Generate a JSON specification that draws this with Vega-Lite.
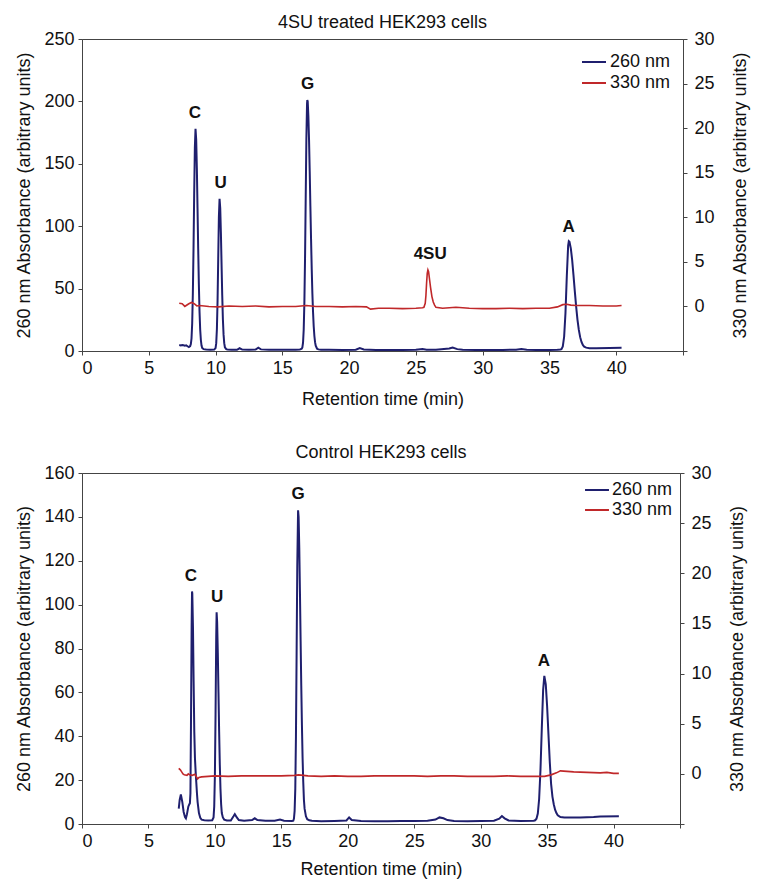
{
  "$schema": "https://vega.github.io/schema/vega-lite/v6.json",
  "padding": {"left": 15, "top": 13, "right": 5, "bottom": 5},
  "spacing": 34,
  "config": {
    "font": "Liberation Sans",
    "view": {"stroke": "#444", "strokeWidth": 1},
    "axis": {"grid": false, "domainColor": "#444", "tickColor": "#444", "labelFontSize": 18, "titleFontSize": 18, "titleFontWeight": "normal", "labelColor": "#111", "titleColor": "#111", "tickSize": 4, "labelPadding": 4, "titlePadding": 10},
    "title": {"fontSize": 18, "fontWeight": "normal", "color": "#111", "offset": 0},
    "legend": {"orient": "top-right", "offset": 12, "labelFontSize": 18, "labelColor": "#111", "symbolStrokeWidth": 2, "symbolSize": 400, "symbolType": "M-1.2,0H1.2", "rowPadding": 1, "labelOffset": 5, "padding": 0}
  },
  "datasets": {
    "top260": [
      {"t":7.28,"v":4.8},{"t":7.4,"v":4.5},{"t":7.5,"v":4.8},{"t":7.6,"v":4.6},{"t":7.7,"v":4.3},{"t":7.8,"v":4.5},{"t":7.9,"v":3.8},{"t":8.0,"v":3.2},{"t":8.1,"v":4.0},
      {"t":8.15,"v":5.5},{"t":8.2,"v":10},{"t":8.25,"v":22},{"t":8.3,"v":46},{"t":8.35,"v":82},{"t":8.4,"v":126},{"t":8.45,"v":163},{"t":8.5,"v":178},{"t":8.55,"v":169.5},{"t":8.6,"v":146.5},{"t":8.65,"v":114.5},{"t":8.7,"v":82},{"t":8.75,"v":53.4},{"t":8.8,"v":31.4},{"t":8.85,"v":17},{"t":8.9,"v":8.8},{"t":8.95,"v":4.4},{"t":9.0,"v":2.4},{"t":9.1,"v":1.5},{"t":9.3,"v":1.2},{"t":9.6,"v":1.0},{"t":9.9,"v":1.1},
      {"t":10.0,"v":2.3},{"t":10.05,"v":6.3},{"t":10.1,"v":17.4},{"t":10.15,"v":40.3},{"t":10.2,"v":74.4},{"t":10.25,"v":107.8},{"t":10.3,"v":122},{"t":10.35,"v":114.5},{"t":10.4,"v":94.8},{"t":10.45,"v":69.2},{"t":10.5,"v":44.6},{"t":10.55,"v":25.2},{"t":10.6,"v":13.1},{"t":10.65,"v":6.3},{"t":10.7,"v":3},{"t":10.8,"v":1.5},{"t":10.9,"v":1.1},
      {"t":11.2,"v":1.0},{"t":11.6,"v":1.0},{"t":11.8,"v":2.2},{"t":12.0,"v":1.1},{"t":12.5,"v":1.0},{"t":13.0,"v":1.2},{"t":13.2,"v":2.6},{"t":13.4,"v":1.3},{"t":14,"v":1.0},{"t":15,"v":1.0},{"t":16.0,"v":1.0},{"t":16.3,"v":1.1},
      {"t":16.45,"v":1.8},{"t":16.5,"v":2.8},{"t":16.55,"v":6.6},{"t":16.6,"v":17},{"t":16.65,"v":38.4},{"t":16.7,"v":74.2},{"t":16.75,"v":122.4},{"t":16.8,"v":170},{"t":16.85,"v":198},{"t":16.87,"v":201},{"t":16.9,"v":200},{"t":16.95,"v":188},{"t":17.0,"v":169},{"t":17.05,"v":144},{"t":17.1,"v":116},{"t":17.15,"v":90},{"t":17.2,"v":66},{"t":17.25,"v":46},{"t":17.3,"v":31},{"t":17.35,"v":19.6},{"t":17.4,"v":12},{"t":17.45,"v":7.1},{"t":17.5,"v":4.3},{"t":17.6,"v":1.8},{"t":17.7,"v":1.3},{"t":17.9,"v":1.0},
      {"t":18.5,"v":1.0},{"t":19.5,"v":0.9},{"t":20.5,"v":1.0},{"t":20.8,"v":2.4},{"t":21.1,"v":1.2},{"t":22,"v":0.9},{"t":23,"v":0.9},{"t":24,"v":0.9},{"t":25,"v":1.0},{"t":25.5,"v":1.6},{"t":25.8,"v":1.0},{"t":26.5,"v":1.0},{"t":27.5,"v":2.0},{"t":27.75,"v":2.8},{"t":28.1,"v":1.5},{"t":28.5,"v":1.0},{"t":29.5,"v":0.9},{"t":30.5,"v":0.9},{"t":31.5,"v":0.9},{"t":32.5,"v":1.0},{"t":32.9,"v":1.6},{"t":33.3,"v":1.0},{"t":34,"v":0.9},{"t":35,"v":0.9},{"t":35.6,"v":1.0},{"t":35.8,"v":1.2},
      {"t":35.9,"v":1.5},{"t":36.0,"v":3.6},{"t":36.1,"v":11.4},{"t":36.2,"v":30.5},{"t":36.3,"v":60},{"t":36.4,"v":84.4},{"t":36.45,"v":88},{"t":36.5,"v":87.5},{"t":36.6,"v":82.3},{"t":36.7,"v":73},{"t":36.8,"v":60.8},{"t":36.9,"v":47.8},{"t":37.0,"v":35.5},{"t":37.1,"v":25},{"t":37.2,"v":16.9},{"t":37.3,"v":11.1},{"t":37.4,"v":7.2},{"t":37.5,"v":4.8},{"t":37.6,"v":3.5},{"t":37.75,"v":2.7},{"t":38.0,"v":2.3},{"t":38.5,"v":2.3},{"t":39.5,"v":2.5},{"t":40.4,"v":2.6}
    ],
    "top330": [
      {"t":7.28,"v":0.35},{"t":7.5,"v":0.3},{"t":7.7,"v":0.0},{"t":7.8,"v":0.1},{"t":8.0,"v":0.3},{"t":8.2,"v":0.45},{"t":8.4,"v":0.3},{"t":8.6,"v":0.05},{"t":8.8,"v":0.1},{"t":9.5,"v":0.0},{"t":10.2,"v":-0.05},{"t":11,"v":0.05},{"t":12,"v":0.0},{"t":13,"v":0.05},{"t":14,"v":-0.05},{"t":15,"v":0.0},{"t":16,"v":0.0},{"t":16.8,"v":0.1},{"t":17.5,"v":0.0},{"t":18.5,"v":0.0},{"t":19.5,"v":-0.05},{"t":20.5,"v":0.0},{"t":21.3,"v":-0.05},{"t":21.6,"v":-0.3},{"t":22.2,"v":-0.2},{"t":23,"v":-0.2},{"t":24,"v":-0.25},{"t":25,"v":-0.2},{"t":25.5,"v":-0.15},{"t":25.6,"v":-0.1},{"t":25.7,"v":0.35},{"t":25.75,"v":1.2},{"t":25.8,"v":2.6},{"t":25.85,"v":3.7},{"t":25.9,"v":4.1},{"t":25.95,"v":3.9},{"t":26.0,"v":3.3},{"t":26.1,"v":2.1},{"t":26.2,"v":1.1},{"t":26.3,"v":0.5},{"t":26.4,"v":0.15},{"t":26.5,"v":-0.1},{"t":27,"v":-0.2},{"t":28,"v":-0.1},{"t":28.5,"v":-0.15},{"t":29,"v":-0.2},{"t":30,"v":-0.25},{"t":31,"v":-0.25},{"t":32,"v":-0.2},{"t":33,"v":-0.25},{"t":34,"v":-0.2},{"t":35,"v":-0.2},{"t":35.6,"v":-0.05},{"t":36.0,"v":0.2},{"t":36.3,"v":0.25},{"t":36.6,"v":0.15},{"t":37,"v":0.1},{"t":38,"v":0.1},{"t":39,"v":0.05},{"t":40,"v":0.05},{"t":40.4,"v":0.1}
    ],
    "topLabels": [
      {"t":8.46,"v":190.7,"label":"C"},{"t":10.38,"v":135,"label":"U"},{"t":16.9,"v":214,"label":"G"},{"t":26.07,"v":77.5,"label":"4SU"},{"t":36.43,"v":99.6,"label":"A"}
    ],
    "bot260": [
      {"t":7.28,"v":7},{"t":7.35,"v":11},{"t":7.44,"v":13.5},{"t":7.55,"v":10},{"t":7.65,"v":5.5},{"t":7.75,"v":3.2},{"t":7.82,"v":2.6},{"t":7.9,"v":4.5},{"t":8.0,"v":7.9},{"t":8.07,"v":8.9},{"t":8.12,"v":9.5},{"t":8.16,"v":14},{"t":8.2,"v":45},{"t":8.25,"v":90},{"t":8.28,"v":106},{"t":8.3,"v":105},{"t":8.35,"v":90},{"t":8.4,"v":65},{"t":8.45,"v":42},{"t":8.5,"v":30},{"t":8.55,"v":24},{"t":8.6,"v":19},{"t":8.65,"v":14},{"t":8.7,"v":10},{"t":8.8,"v":5},{"t":8.9,"v":2.8},{"t":9.0,"v":2.0},{"t":9.2,"v":1.7},{"t":9.5,"v":1.6},{"t":9.8,"v":1.7},
      {"t":9.9,"v":3},{"t":9.95,"v":8},{"t":10.0,"v":22},{"t":10.05,"v":50},{"t":10.1,"v":85},{"t":10.13,"v":96.5},{"t":10.17,"v":92},{"t":10.22,"v":78},{"t":10.27,"v":60},{"t":10.32,"v":42},{"t":10.37,"v":27},{"t":10.42,"v":16},{"t":10.47,"v":9},{"t":10.52,"v":5},{"t":10.6,"v":3},{"t":10.7,"v":2},{"t":10.9,"v":1.6},
      {"t":11.2,"v":1.6},{"t":11.4,"v":3.5},{"t":11.5,"v":4.5},{"t":11.65,"v":3.0},{"t":11.8,"v":1.8},{"t":12.2,"v":1.5},{"t":12.8,"v":1.8},{"t":13.0,"v":2.6},{"t":13.2,"v":1.8},{"t":13.8,"v":1.5},{"t":14.5,"v":1.5},{"t":14.9,"v":2.0},{"t":15.2,"v":1.5},{"t":15.8,"v":1.4},
      {"t":15.9,"v":1.5},{"t":15.95,"v":2.5},{"t":16.0,"v":6},{"t":16.05,"v":16},{"t":16.1,"v":40},{"t":16.15,"v":78},{"t":16.2,"v":118},{"t":16.26,"v":143},{"t":16.3,"v":140},{"t":16.35,"v":126},{"t":16.4,"v":106},{"t":16.45,"v":84},{"t":16.5,"v":63},{"t":16.55,"v":45},{"t":16.6,"v":30},{"t":16.65,"v":19},{"t":16.7,"v":11},{"t":16.75,"v":7},{"t":16.85,"v":3.5},{"t":16.95,"v":2.2},{"t":17.1,"v":1.7},{"t":17.3,"v":1.5},
      {"t":18,"v":1.3},{"t":19,"v":1.4},{"t":19.9,"v":1.6},{"t":20.1,"v":3.0},{"t":20.3,"v":1.8},{"t":21,"v":1.4},{"t":22,"v":1.3},{"t":23,"v":1.3},{"t":24,"v":1.4},{"t":25,"v":1.4},{"t":26,"v":1.5},{"t":26.6,"v":2.0},{"t":26.9,"v":3.0},{"t":27.2,"v":2.6},{"t":27.5,"v":1.8},{"t":28,"v":1.4},{"t":29,"v":1.3},{"t":30,"v":1.4},{"t":31,"v":1.5},{"t":31.4,"v":2.4},{"t":31.6,"v":3.6},{"t":31.8,"v":2.6},{"t":32.1,"v":1.6},{"t":33,"v":1.4},{"t":34,"v":1.5},
      {"t":34.1,"v":1.7},{"t":34.2,"v":2.4},{"t":34.3,"v":4.8},{"t":34.4,"v":11.4},{"t":34.5,"v":24.6},{"t":34.6,"v":43.5},{"t":34.7,"v":61},{"t":34.79,"v":67.5},{"t":34.9,"v":63.6},{"t":35.0,"v":53.7},{"t":35.1,"v":41},{"t":35.2,"v":28.4},{"t":35.3,"v":18.3},{"t":35.4,"v":12.5},{"t":35.5,"v":9},{"t":35.6,"v":6.5},{"t":35.7,"v":5},{"t":35.8,"v":4},{"t":36.0,"v":3.2},{"t":36.3,"v":3.0},{"t":36.8,"v":3.0},{"t":37.5,"v":3.0},{"t":38.5,"v":3.2},{"t":39,"v":3.4},{"t":40.4,"v":3.5}
    ],
    "bot330": [
      {"t":7.28,"v":0.55},{"t":7.4,"v":0.4},{"t":7.5,"v":0.2},{"t":7.6,"v":0.0},{"t":7.7,"v":-0.1},{"t":7.9,"v":-0.15},{"t":8.0,"v":0.0},{"t":8.1,"v":-0.1},{"t":8.3,"v":-0.15},{"t":8.5,"v":-0.05},{"t":8.7,"v":-0.5},{"t":8.8,"v":-0.35},{"t":9.0,"v":-0.3},{"t":9.5,"v":-0.25},{"t":10,"v":-0.2},{"t":11,"v":-0.25},{"t":12,"v":-0.2},{"t":13,"v":-0.2},{"t":14,"v":-0.2},{"t":15,"v":-0.2},{"t":16,"v":-0.15},{"t":16.3,"v":-0.1},{"t":17,"v":-0.2},{"t":18,"v":-0.25},{"t":19,"v":-0.2},{"t":20,"v":-0.25},{"t":21,"v":-0.25},{"t":22,"v":-0.2},{"t":23,"v":-0.2},{"t":24,"v":-0.2},{"t":25,"v":-0.2},{"t":26,"v":-0.25},{"t":27,"v":-0.2},{"t":28,"v":-0.2},{"t":29,"v":-0.25},{"t":30,"v":-0.25},{"t":31,"v":-0.25},{"t":32,"v":-0.2},{"t":33,"v":-0.25},{"t":34,"v":-0.25},{"t":34.8,"v":-0.25},{"t":35.3,"v":-0.1},{"t":35.7,"v":0.1},{"t":36.0,"v":0.3},{"t":36.5,"v":0.25},{"t":37,"v":0.2},{"t":38,"v":0.15},{"t":39,"v":0.1},{"t":39.5,"v":0.15},{"t":40,"v":0.05},{"t":40.4,"v":0.05}
    ],
    "botLabels": [
      {"t":8.2,"v":113.2,"label":"C"},{"t":10.17,"v":103.6,"label":"U"},{"t":16.26,"v":150.3,"label":"G"},{"t":34.76,"v":74.4,"label":"A"}
    ]
  },
  "resolve": {"scale": {"color": "independent"}},
  "vconcat": [
    {
      "title": {"text": "4SU treated HEK293 cells", "offset": -2},
      "width": 601,
      "height": 312,
      "resolve": {"scale": {"y": "independent"}},
      "layer": [
        {
          "data": {"name": "top260"},
          "mark": {"type": "line", "strokeWidth": 2},
          "encoding": {
            "x": {"field": "t", "type": "quantitative", "scale": {"domain": [0, 45], "nice": false}, "axis": {"title": "Retention time (min)", "titlePadding": 13, "values": [0, 5, 10, 15, 20, 25, 30, 35, 40, 45], "labelExpr": "datum.value > 40 ? '' : datum.label"}},
            "y": {"field": "v", "type": "quantitative", "scale": {"domain": [0, 250], "nice": false}, "axis": {"orient": "left", "title": "260 nm Absorbance (arbitrary units)", "values": [0, 50, 100, 150, 200, 250]}},
            "color": {"datum": "260 nm", "scale": {"domain": ["260 nm", "330 nm"], "range": ["#1f1f6e", "#c0282a"]}, "legend": {"title": null}}
          }
        },
        {
          "data": {"name": "top330"},
          "mark": {"type": "line", "strokeWidth": 1.6},
          "encoding": {
            "x": {"field": "t", "type": "quantitative"},
            "y": {"field": "v", "type": "quantitative", "scale": {"domain": [-5, 30], "nice": false}, "axis": {"orient": "right", "title": "330 nm Absorbance (arbitrary units)", "titleAngle": 270, "titleBaseline": "top", "titlePadding": 17, "labelPadding": 7, "values": [-5, 0, 5, 10, 15, 20, 25, 30], "labelExpr": "datum.value < 0 ? '' : datum.label"}},
            "color": {"datum": "330 nm", "legend": {"title": null}}
          }
        },
        {
          "data": {"name": "topLabels"},
          "mark": {"type": "text", "fontWeight": "bold", "fontSize": 17, "color": "#111", "baseline": "middle"},
          "encoding": {
            "x": {"field": "t", "type": "quantitative"},
            "y": {"field": "v", "type": "quantitative", "scale": {"domain": [0, 250], "nice": false}, "axis": null},
            "text": {"field": "label"}
          }
        }
      ]
    },
    {
      "title": {"text": "Control HEK293 cells", "offset": 2},
      "width": 598,
      "height": 351,
      "resolve": {"scale": {"y": "independent"}},
      "layer": [
        {
          "data": {"name": "bot260"},
          "mark": {"type": "line", "strokeWidth": 2},
          "encoding": {
            "x": {"field": "t", "type": "quantitative", "scale": {"domain": [0, 45], "nice": false}, "axis": {"title": "Retention time (min)", "titlePadding": 10, "values": [0, 5, 10, 15, 20, 25, 30, 35, 40, 45], "labelExpr": "datum.value > 40 ? '' : datum.label"}},
            "y": {"field": "v", "type": "quantitative", "scale": {"domain": [0, 160], "nice": false}, "axis": {"orient": "left", "title": "260 nm Absorbance (arbitrary units)", "values": [0, 20, 40, 60, 80, 100, 120, 140, 160]}},
            "color": {"datum": "260 nm", "scale": {"domain": ["260 nm", "330 nm"], "range": ["#1f1f6e", "#c0282a"]}, "legend": {"title": null, "offset": 7, "rowPadding": 1, "symbolSize": 324, "symbolType": "M-1.33,0H1.33"}}
          }
        },
        {
          "data": {"name": "bot330"},
          "mark": {"type": "line", "strokeWidth": 1.6},
          "encoding": {
            "x": {"field": "t", "type": "quantitative"},
            "y": {"field": "v", "type": "quantitative", "scale": {"domain": [-5, 30], "nice": false}, "axis": {"orient": "right", "title": "330 nm Absorbance (arbitrary units)", "titleAngle": 270, "titleBaseline": "top", "titlePadding": 17, "labelPadding": 7, "values": [-5, 0, 5, 10, 15, 20, 25, 30], "labelExpr": "datum.value < 0 ? '' : datum.label"}},
            "color": {"datum": "330 nm", "legend": {"title": null, "offset": 7, "rowPadding": 1, "symbolSize": 324, "symbolType": "M-1.33,0H1.33"}}
          }
        },
        {
          "data": {"name": "botLabels"},
          "mark": {"type": "text", "fontWeight": "bold", "fontSize": 17, "color": "#111", "baseline": "middle"},
          "encoding": {
            "x": {"field": "t", "type": "quantitative"},
            "y": {"field": "v", "type": "quantitative", "scale": {"domain": [0, 160], "nice": false}, "axis": null},
            "text": {"field": "label"}
          }
        }
      ]
    }
  ]
}
